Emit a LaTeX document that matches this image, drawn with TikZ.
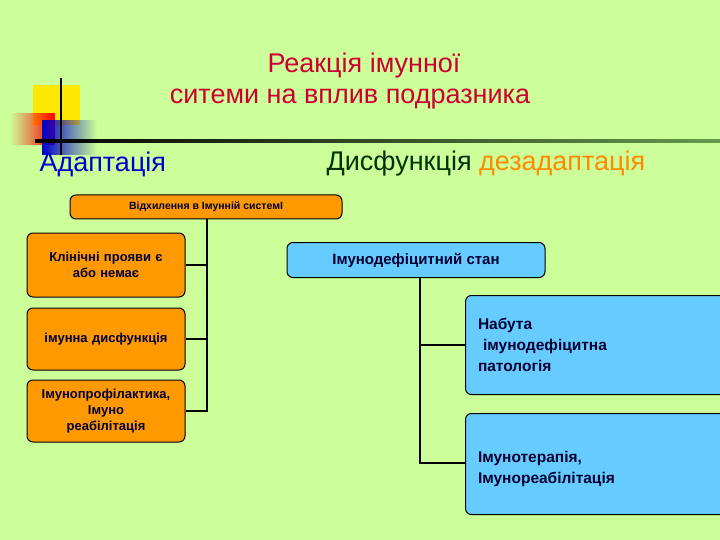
\documentclass[tikz,border=0pt]{standalone}
\usepackage{fontspec}
\setmainfont{Liberation Sans}
\usetikzlibrary{fadings}
\definecolor{bg}{HTML}{CCFF99}
\definecolor{ttl}{HTML}{CC0033}
\definecolor{orng}{HTML}{FF9900}
\definecolor{lblue}{HTML}{66CCFF}
\definecolor{navy}{HTML}{000033}
\definecolor{dgreen}{HTML}{003300}
\tikzset{
 obox/.style={draw=black, line width=1pt, fill=orng, rounded corners=6pt, text=navy, align=center, font=\bfseries\fontsize{13}{16}\selectfont},
 bbox/.style={draw=black, line width=1pt, fill=lblue, rounded corners=6pt, text=navy, font=\bfseries\fontsize{15}{19}\selectfont},
 conn/.style={line width=2pt, draw=black},
}
\begin{document}
\begin{tikzpicture}[x=1pt,y=-1pt]
\useasboundingbox (0,0) rectangle (720,540);
\fill[bg] (0,0) rectangle (720,540);
% decoration
\fill[yellow!90!orange] (33,85) rectangle (80,125);
\fill[red, path fading=west] (10,113) rectangle (55,145);
\fill[blue!80!black, path fading=east] (42,120) rectangle (97,155);
\draw[line width=2.2pt] (61,78) -- (61,155);
\shade[left color=black, right color=dgreen!50!bg] (35,140) rectangle (720,143);
% titles
\node[text=ttl, font=\fontsize{27}{32}\selectfont] (t1) at (364,66) {Реакція імунної};
\node[text=ttl, font=\fontsize{27}{32}\selectfont] (t2) at (350,99) {ситеми на вплив подразника};
\node[text=blue!80!black, font=\fontsize{27}{32}\selectfont, anchor=west] (ad) at (36,164) {Адаптація};
\node[font=\fontsize{27}{32}\selectfont, anchor=west] (dys) at (323,164) {\textcolor{dgreen}{Дисфункція} \textcolor{orng!90!red}{дезадаптація}};
% left
\node[obox, minimum width=272pt, minimum height=24pt, font=\bfseries\fontsize{10.5}{12}\selectfont] (b0) at (206,207) {Відхилення в Імунній системІ};
\node[obox, minimum width=158pt, minimum height=64pt, text width=150pt] (l1) at (106,265) {Клінічні прояви є\\або немає};
\node[obox, minimum width=158pt, minimum height=62pt, text width=150pt] (l2) at (106,339) {імунна дисфункція};
\node[obox, minimum width=158pt, minimum height=62pt, text width=150pt] (l3) at (106,411) {Імунопрофілактика,\\Імуно\\реабілітація};
\coordinate (v0) at (207,219);
\coordinate (v3) at (207,411);
\draw[conn] (v0) -- (v3) -- (l3.east);
\draw[conn] (l1.east) -- (l1.east -| v0);
\draw[conn] (l2.east) -- (l2.east -| v0);
% right
\node[bbox, minimum width=258pt, minimum height=35pt] (r0) at (416,260) {Імунодефіцитний стан};
\node[bbox, minimum width=265pt, minimum height=99pt, anchor=west, text width=240pt, align=left, font=\bfseries\fontsize{15.5}{21}\selectfont] (r1) at (465,345) {Набута\\\ імунодефіцитна\\патологія\\[14pt]};
\node[bbox, minimum width=265pt, minimum height=101pt, anchor=west, text width=240pt, align=left, font=\bfseries\fontsize{15.5}{21}\selectfont] (r2) at (465,464) {\\[0pt]Імунотерапія,\\Імунореабілітація};
\coordinate (w3) at (420,463);
\draw[conn] (r0.south -| w3) -- (w3) -- (r2.west |- w3);
\draw[conn] (r1.west) -- (r1.west -| w3);
\end{tikzpicture}
\end{document}
